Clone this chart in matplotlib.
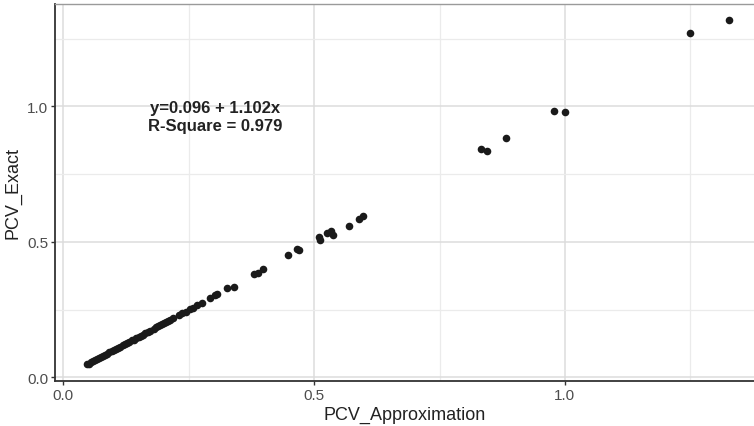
import matplotlib
matplotlib.use("Agg")
import matplotlib.pyplot as plt
from matplotlib.ticker import MultipleLocator

# values
pcv_approx = [
    0.047, 0.052, 0.056, 0.060, 0.064, 0.068, 0.072, 0.076, 0.080, 0.084,
    0.088, 0.092, 0.097, 0.101, 0.105, 0.110, 0.114, 0.118, 0.123, 0.127,
    0.131, 0.136, 0.140, 0.145, 0.150, 0.154, 0.158, 0.163, 0.168, 0.172,
    0.180, 0.184, 0.188, 0.192, 0.196, 0.200, 0.204, 0.208, 0.213, 0.218,
    0.230, 0.236, 0.244, 0.252, 0.258, 0.266,
    0.276, 0.293, 0.303, 0.307, 0.326, 0.341,
    0.380, 0.389, 0.399, 0.447, 0.465, 0.470,
    0.509, 0.512, 0.525, 0.533, 0.538, 0.570, 0.590, 0.598,
    0.832, 0.844, 0.882, 0.978, 1.001, 1.249, 1.327,
]
pcv_exact = [
    0.048, 0.051, 0.055, 0.060, 0.063, 0.068, 0.071, 0.076, 0.079, 0.084,
    0.087, 0.092, 0.096, 0.101, 0.104, 0.110, 0.113, 0.118, 0.122, 0.127,
    0.130, 0.136, 0.139, 0.145, 0.149, 0.154, 0.157, 0.163, 0.167, 0.172,
    0.180, 0.185, 0.188, 0.193, 0.196, 0.201, 0.204, 0.209, 0.213, 0.218,
    0.229, 0.236, 0.243, 0.252, 0.257, 0.266,
    0.276, 0.293, 0.304, 0.306, 0.328, 0.335,
    0.380, 0.384, 0.400, 0.453, 0.472, 0.471,
    0.517, 0.506, 0.532, 0.539, 0.526, 0.560, 0.585, 0.597,
    0.842, 0.836, 0.885, 0.984, 0.979, 1.270, 1.319,
]
fit_text = "y=0.096 + 1.102x\nR-Square = 0.979"

plt.rcParams["font.family"] = ["Liberation Sans", "DejaVu Sans"]

fig = plt.figure(figsize=(7.54, 4.27), dpi=100)
ax = fig.add_axes([0.073, 0.106, 0.927, 0.882])

ax.scatter(pcv_approx, pcv_exact, s=30, color="#1a1a1a", zorder=3, linewidths=0)

ax.set_xlim(-0.0165, 1.377)
ax.set_ylim(-0.0126, 1.378)
ax.xaxis.set_major_locator(MultipleLocator(0.5))
ax.yaxis.set_major_locator(MultipleLocator(0.5))
ax.xaxis.set_minor_locator(MultipleLocator(0.25))
ax.yaxis.set_minor_locator(MultipleLocator(0.25))
ax.xaxis.set_major_formatter(lambda v, p: f"{v:.1f}")
ax.yaxis.set_major_formatter(lambda v, p: f"{v:.1f}")

ax.grid(which="major", color="#dcdcdc", linewidth=1.1)
ax.grid(which="minor", color="#ebebeb", linewidth=0.9)
ax.set_axisbelow(True)

ax.tick_params(which="major", length=3, width=1, color="#333333",
               labelsize=11, labelcolor="#4d4d4d", pad=2)
ax.tick_params(which="minor", length=0)

for side in ["left", "bottom"]:
    ax.spines[side].set_color("#333333")
    ax.spines[side].set_linewidth(1.3)
ax.spines["top"].set_color("#9a9a9a")
ax.spines["top"].set_linewidth(1.0)
ax.spines["right"].set_visible(False)

ax.set_xlabel("PCV_Approximation", fontsize=13, color="#222222", labelpad=3)
ax.set_ylabel("PCV_Exact", fontsize=13, color="#222222", labelpad=4)

ax.text(0.303, 0.963, fit_text, ha="center", va="center", fontsize=12,
        fontweight="bold", color="#222222", linespacing=1.2)

fig.savefig("out.png", dpi=100)
